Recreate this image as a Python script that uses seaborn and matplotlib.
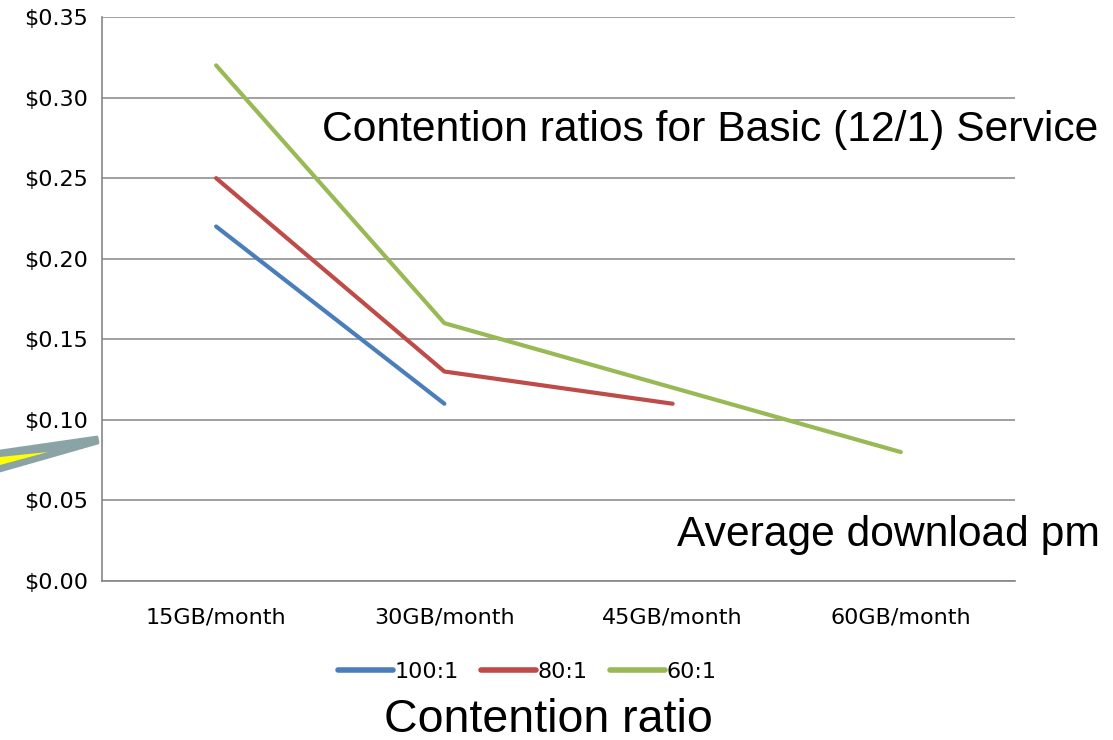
import numpy as np
import pandas as pd
import matplotlib
matplotlib.use('Agg')
import matplotlib.pyplot as plt
import seaborn as sns
from matplotlib.patches import Polygon
from matplotlib.lines import Line2D

# Dados
Categorias = ['15GB/month', '30GB/month', '45GB/month', '60GB/month']
Razoes = ['100:1', '80:1', '60:1']
Valores_100 = [0.22, 0.11, np.nan, np.nan]
Valores_80 = [0.25, 0.13, 0.11, np.nan]
Valores_60 = [0.32, 0.16, 0.12, 0.08]
Cores = ['#4a7ebb', '#be4b48', '#98b954']

Base = pd.DataFrame({
    'Download': Categorias * 3,
    'Custo': Valores_100 + Valores_80 + Valores_60,
    'Razao': [r for r in Razoes for _ in Categorias],
})

sns.set_style('white')
plt.rcParams['font.family'] = ['Liberation Sans', 'DejaVu Sans']
plt.rcParams['text.color'] = 'black'
plt.rcParams['xtick.color'] = 'black'
plt.rcParams['ytick.color'] = 'black'

W, H = 1113, 740
fig = plt.figure(figsize=(W / 100, H / 100), dpi=100)
ax = fig.add_axes([102 / W, 1 - 581 / H, 913 / W, 564 / H])

sns.lineplot(data=Base, x='Download', y='Custo', hue='Razao', palette=Cores,
             linewidth=3.0, sort=False, legend=False, ax=ax)

Fonte_Eixo = {'family': 'DejaVu Sans', 'size': 16}

ax.set_xlim(-0.5, 3.5)
ax.set_ylim(0, 0.35)
ax.set_yticks(np.arange(0, 0.351, 0.05))
ax.set_yticklabels(['${:.2f}'.format(v) for v in np.arange(0, 0.351, 0.05)], fontdict=Fonte_Eixo)
ax.set_xticks(range(4))
ax.set_xticklabels(Categorias, fontdict=Fonte_Eixo)
ax.set_xticks(np.arange(-0.5, 3.6, 1), minor=True)
ax.tick_params(axis='x', which='major', length=0, pad=19)
ax.tick_params(axis='x', which='minor', length=6, width=1.2, color='#868686', direction='out')
ax.tick_params(axis='y', length=5, width=1.2, color='#868686', direction='out', pad=5)
ax.yaxis.grid(True, color='#868686', linewidth=1.1)
ax.set_axisbelow(True)
for lado in ['top', 'right']:
    ax.spines[lado].set_visible(False)
for lado in ['left', 'bottom']:
    ax.spines[lado].set_color('#868686')
    ax.spines[lado].set_linewidth(1.2)
ax.set_xlabel('')
ax.set_ylabel('')

# Textos
fig.text(322 / W, 1 - 130 / H, 'Contention ratios for Basic (12/1) Service',
         fontsize=30.7, va='center', ha='left')
fig.text(677 / W, 1 - 535 / H, 'Average download pm', fontsize=30.7, va='center', ha='left')
fig.text(548 / W, 1 - 720 / H, 'Contention ratio', fontsize=33.5, va='center', ha='center')

# Legenda
Alcas = [Line2D([0], [0], color=c, linewidth=4, solid_capstyle='round') for c in Cores]
fig.legend(Alcas, Razoes, loc='center', bbox_to_anchor=(527 / W, 1 - 672 / H), ncol=3,
           frameon=False, handlelength=2.5, handletextpad=0.05, columnspacing=1.0,
           prop=Fonte_Eixo)

# Seta do balao (cortada na borda)
def px(pts):
    return [(x / W, 1 - y / H) for x, y in pts]

fig.patches.append(Polygon(px([(0, 451), (97, 437), (98, 443), (0, 471)]), closed=True,
                           facecolor='#8aa4a6', edgecolor='#8aa4a6', linewidth=2,
                           joinstyle='round', transform=fig.transFigure, figure=fig))
fig.patches.append(Polygon(px([(0, 457), (48, 452), (0, 465)]), closed=True,
                           facecolor='#ffff00', edgecolor='none',
                           transform=fig.transFigure, figure=fig))

fig.savefig('out.png', dpi=100, facecolor='white')
